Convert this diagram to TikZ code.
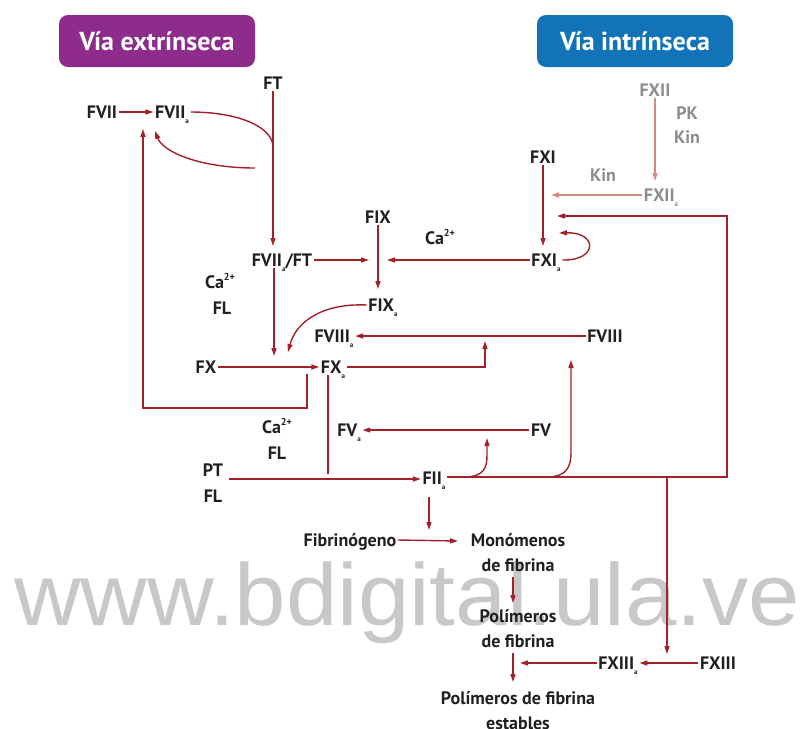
\documentclass[tikz,border=0pt]{standalone}
\usepackage{fontspec}
\setmainfont{PT Sans}
\newfontfamily\wmfont{Liberation Sans}
\usetikzlibrary{arrows.meta}
\definecolor{arr}{HTML}{A3212B}
\definecolor{garr}{HTML}{CF8C80}
\definecolor{gtxt}{HTML}{8C8C8C}
\definecolor{purp}{HTML}{8E2C8C}
\definecolor{blu}{HTML}{1273B9}
\definecolor{txt}{HTML}{231F20}
\definecolor{wm}{HTML}{C8C8C8}
\newcommand\suba{\raisebox{-0.3em}{\fontsize{7pt}{7pt}\selectfont\bfseries a}}
\newcommand\casup{Ca\raisebox{0.45em}{\fontsize{10pt}{10pt}\selectfont 2+}}
\begin{document}
\begin{tikzpicture}[x=1pt,y=-1pt,
 lbl/.style={font=\fontsize{18}{21}\selectfont\bfseries, text=txt, inner sep=1.5pt, text height=13pt, text depth=0pt},
 glbl/.style={lbl, text=gtxt},
 mlbl/.style={font=\fontsize{18}{25}\selectfont\bfseries, text=txt, inner sep=1.5pt, align=center},
 hdr/.style={rounded corners=9pt, minimum width=196pt, minimum height=52pt, text=white, font=\fontsize{26}{30}\selectfont\bfseries},
 con/.style={draw=arr, line width=1.4pt},
 ar/.style={con, -{Triangle[length=8pt,width=5pt]}},
 gar/.style={draw=garr, line width=1.4pt, -{Triangle[length=8pt,width=5pt]}},
]
\useasboundingbox (0,0) rectangle (807,729);
% watermark
\node[text=wm, font=\wmfont\fontsize{88}{88}\selectfont, anchor=base, inner sep=0] (wmark) at (407,625) {\scalebox{1.05}[1]{www.bdigital.ula.ve}};
% headers
\node[hdr, fill=purp] (ext) at (157,41) {Vía extrínseca};
\node[hdr, fill=blu] (int) at (635,41) {Vía intrínseca};
% labels
\node[lbl] (FT) at (273,83) {FT};
\node[lbl] (FVII) at (102,112) {FVII};
\node[lbl] (FVIIa) at (172,112) {FVII\suba};
\node[lbl] (FVIIaFT) at (282,260) {FVII\suba/FT};
\node[lbl] (FIX) at (378,217) {FIX};
\node[lbl] (Ca1) at (440,238) {\casup};
\node[lbl] (FXI) at (543,157) {FXI};
\node[lbl] (FXIa) at (546,260) {FXI\suba};
\node[glbl] (FXII) at (655,90) {FXII};
\node[glbl] (PK) at (687,113) {PK};
\node[glbl] (Kin1) at (687,137) {Kin};
\node[glbl] (Kin2) at (603,175) {Kin};
\node[glbl] (FXIIa) at (661,195) {FXII\suba};
\node[lbl] (Ca2) at (220,282) {\casup};
\node[lbl] (FL2) at (222,308) {FL};
\node[lbl] (FIXa) at (383,305) {FIX\suba};
\node[lbl] (FVIIIa) at (334,336) {FVIII\suba};
\node[lbl] (FVIII) at (605,336) {FVIII};
\node[lbl] (FX) at (206,367) {FX};
\node[lbl] (FXa) at (333,367) {FX\suba};
\node[lbl] (Ca3) at (277,427) {\casup};
\node[lbl] (FL3) at (277,453) {FL};
\node[lbl] (FVa) at (349,430) {FV\suba};
\node[lbl] (FV) at (541,430) {FV};
\node[lbl] (PT) at (213,470) {PT};
\node[lbl] (FL4) at (213,496) {FL};
\node[lbl] (FIIa) at (434,478) {FII\suba};
\node[lbl] (Fib) at (350,540) {Fibrinógeno};
\node[mlbl] (Mon) at (518,553) {Monómenos\\de fibrina};
\node[mlbl] (Pol) at (518,629) {Polímeros\\de fibrina};
\node[lbl] (FXIIIa) at (618,663) {FXIII\suba};
\node[lbl] (FXIII) at (718,663) {FXIII};
\node[mlbl] (Est) at (518,711) {Polímeros de fibrina\\estables};
% coordinates
\coordinate (ftEnd) at (273,246);
\coordinate (j1) at (273,145);
\coordinate (j2) at (255,168);
\coordinate (vIn) at (155,131);
\coordinate (fbS) at (307,374);
\coordinate (fbE) at (143,129);
\coordinate (t1) at (369,260);
\coordinate (fixEnd) at (378,289);
\coordinate (t2) at (387,260);
\coordinate (fxiEnd) at (543,246);
\coordinate (loopE) at (559,233);
\coordinate (fxiiEnd) at (655,181);
\coordinate (kinEnd) at (551,195);
\coordinate (r1) at (727,477);
\coordinate (fbE2) at (557,216);
\coordinate (x1) at (667,477);
\coordinate (x1e) at (667,654);
\coordinate (c1s) at (466,477);
\coordinate (c1e) at (487,438);
\coordinate (c2s) at (549,477);
\coordinate (c2e) at (571,360);
\coordinate (fxaE) at (485,341);
\coordinate (fvEnd) at (274,356);
\coordinate (fixaE) at (288,352);
\coordinate (fxaD) at (328,474);
\coordinate (ptS) at (229,479);
\coordinate (f2a) at (429,497);
\coordinate (f2b) at (429,530);
\coordinate (monIn) at (458,541);
\coordinate (m1) at (513,577);
\coordinate (m2) at (513,603);
\coordinate (p1) at (513,653);
\coordinate (p2) at (513,682);
\coordinate (xe) at (520,663);
% connectors
\draw[ar] (FVII.east) -- (FVIIa.west);
\draw[ar] (FT.south) -- (ftEnd);
\draw[con] (FVIIa.east) .. controls (235,112) and (270,125) .. (j1);
\draw[ar] (j2) .. controls (200,168) and (163,152) .. (vIn);
\draw[ar] (fbS) -- ++(0,34) -| (fbE);
\draw[ar] (FVIIaFT.east) -- (t1);
\draw[ar] (FIX.south) -- (fixEnd);
\draw[ar] (FXIa.west) -- (t2);
\draw[ar] (FXI.south) -- (fxiEnd);
\draw[ar] (FXIa.east) .. controls (598,261) and (598,232) .. (loopE);
\draw[gar] (FXII.south) -- (fxiiEnd);
\draw[gar] (FXIIa.west) -- (kinEnd);
\draw[ar] (FIIa.east |- r1) -- (r1) |- (fbE2);
\draw[ar] (x1) -- (x1e);
\draw[ar] (c1s) .. controls (484,476) and (487,468) .. (487,455) -- (c1e);
\draw[ar] (c2s) .. controls (566,476) and (571,468) .. (571,452) -- (c2e);
\draw[ar] (FVIII.west) -- (FVIIIa.east);
\draw[ar] (FXa.east) -| (fxaE);
\draw[ar] (FX.east) -- (FXa.west);
\draw[ar] (FVIIaFT.south -| fvEnd) -- (fvEnd);
\draw[ar] (FIXa.west) .. controls (322,303) and (296,322) .. (fixaE);
\draw[con] (FXa.south -| fxaD) -- (fxaD);
\draw[ar] (ptS) -- (FIIa.west |- ptS);
\draw[ar] (FV.west) -- (FVa.east);
\draw[ar] (f2a) -- (f2b);
\draw[ar] (Fib.east) -- (monIn);
\draw[ar] (m1) -- (m2);
\draw[ar] (p1) -- (p2);
\draw[ar] (FXIII.west) -- (FXIIIa.east);
\draw[ar] (FXIIIa.west) -- (xe);
\end{tikzpicture}
\end{document}
